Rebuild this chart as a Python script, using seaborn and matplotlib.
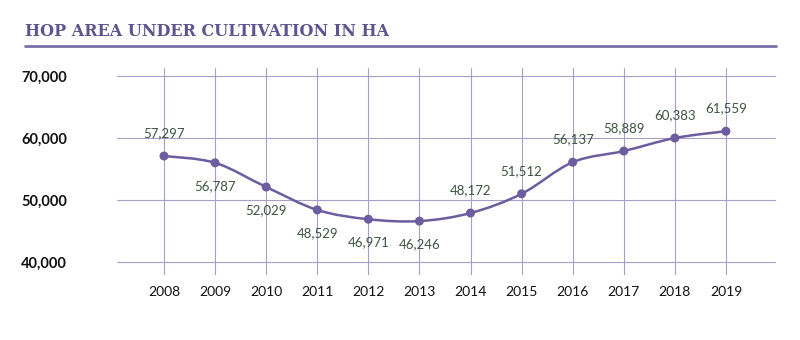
import matplotlib
matplotlib.use("Agg")
import matplotlib.pyplot as plt
from matplotlib.path import Path
from matplotlib.patches import PathPatch
import numpy as np
import pandas as pd
import seaborn as sns

years = [2008, 2009, 2010, 2011, 2012, 2013, 2014, 2015, 2016, 2017, 2018, 2019]
plotted = [57100, 56000, 52100, 48400, 46900, 46600, 47900, 51000, 56100, 57900, 60000, 61100]
labels = ["57,297", "56,787", "52,029", "48,529", "46,971", "46,246",
          "48,172", "51,512", "56,137", "58,889", "60,383", "61,559"]
label_side = [1, -1, -1, -1, -1, -1, 1, 1, 1, 1, 1, 1]
y_ticks = [40000, 50000, 60000, 70000]
y_tick_labels = ["40,000", "50,000", "60,000", "70,000"]
title = "HOP AREA UNDER CULTIVATION IN HA"

purple = "#6b5d9f"
grid_c = "#a69fc8"
label_c = "#3d5440"

sns.set_theme(style="white")
plt.rcParams['font.family'] = ['Lato', 'DejaVu Sans']

df = pd.DataFrame({"year": years, "area": plotted})

fig = plt.figure(figsize=(8, 3.4), dpi=100)
ax = fig.add_axes([117/800, 1 - 275/340, (776 - 117)/800, (275 - 68)/340])

# smooth curve (Catmull-Rom -> cubic Bezier) through the points
x = np.array(years, dtype=float)
y = np.array(plotted, dtype=float)
verts = [(x[0], y[0])]
codes = [Path.MOVETO]
n = len(x)
for i in range(n - 1):
    p0 = (x[i - 1], y[i - 1]) if i > 0 else (x[i], y[i])
    p1 = (x[i], y[i])
    p2 = (x[i + 1], y[i + 1])
    p3 = (x[i + 2], y[i + 2]) if i + 2 < n else (x[i + 1], y[i + 1])
    c1 = (p1[0] + (p2[0] - p0[0]) / 6, p1[1] + (p2[1] - p0[1]) / 6)
    c2 = (p2[0] - (p3[0] - p1[0]) / 6, p2[1] - (p3[1] - p1[1]) / 6)
    verts += [c1, c2, p2]
    codes += [Path.CURVE4] * 3
ax.add_patch(PathPatch(Path(verts, codes), facecolor="none", edgecolor=purple,
                       lw=1.8, zorder=3))

sns.scatterplot(data=df, x="year", y="area", ax=ax, color=purple, s=42,
                edgecolor="none", zorder=4, legend=False)

for xi, yi, lab, side in zip(years, plotted, labels, label_side):
    ax.annotate(lab, (xi, yi), xytext=(0, 23 * side), textcoords="offset pixels",
                ha="center", va="center", fontsize=9.5, color=label_c, zorder=5)

ax.set_xlim(2007.08, 2019.98)
ax.set_ylim(37900, 71300)
ax.set_xticks(years)
ax.set_xticklabels([str(v) for v in years], fontsize=10, color="#111111")
ax.set_yticks(y_ticks)
ax.set_yticklabels(y_tick_labels, fontsize=10.5, fontweight="bold", color="#111111")
ax.tick_params(axis="both", length=0)
ax.tick_params(axis="y", pad=36)
ax.tick_params(axis="x", pad=8)
ax.set_xlabel("")
ax.set_ylabel("")
for s in ax.spines.values():
    s.set_visible(False)

for yt in y_ticks:
    ax.axhline(yt, color=grid_c, lw=0.8, zorder=1)
for xt in years:
    ax.axvline(xt, color=grid_c, lw=0.8, zorder=1)

fig.text(25/800, 1 - 31/340, title, fontsize=11.5, fontweight="bold",
         family="DejaVu Serif", color="#5e5590", va="center", ha="left")
fig.add_artist(plt.Line2D([25/800, 776/800], [1 - 46/340, 1 - 46/340],
                          color="#7a6fa8", lw=2))

fig.savefig("out.png", dpi=100)
